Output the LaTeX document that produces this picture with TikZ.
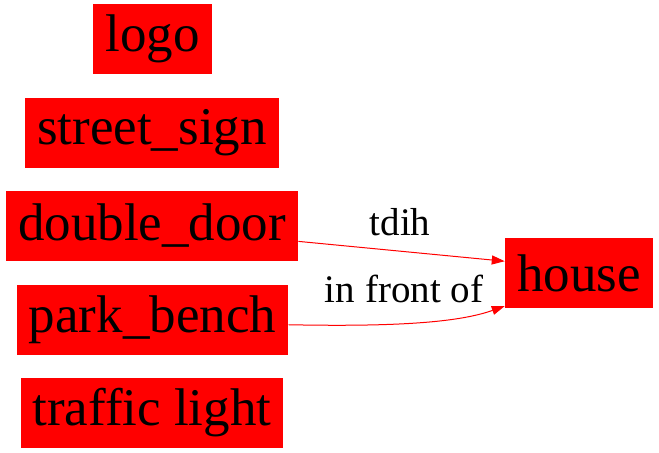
\documentclass[tikz,border=0pt]{standalone}
\usepackage{fontspec}
\setmainfont{Liberation Serif}
\usetikzlibrary{arrows.meta}

\tikzset{
  obj/.style={fill=red, minimum height=35pt, inner xsep=6pt, inner ysep=0pt, font=\fontsize{26.5}{30}\selectfont},
  rel/.style={draw=red, line width=0.5pt, -{Triangle[length=6.5pt,width=4.5pt]}},
  lbl/.style={font=\fontsize{19.5}{22}\selectfont, inner sep=0pt}
}

\begin{document}
\begin{tikzpicture}[x=0.5pt, y=-0.5pt]
	\useasboundingbox (0,0) rectangle (659,453);

	\node[obj] (logo) at (152.5,39) {logo};
	\node[obj] (sign) at (152,133) {street\_sign};
	\node[obj] (door) at (152,226) {double\_door};
	\node[obj] (bench) at (152.5,320) {park\_bench};
	\node[obj] (light) at (152,413) {traffic light};

	\node[obj] (house) at (579,273) {house};

	\node[lbl] (tdih) at (400,222) {tdih};
	\node[lbl] (front) at (404,289) {in front of};

	\draw[rel] (door.-6.2) -- (house.171.5);
	\draw[rel] (bench.-2.5) .. controls (400,327) and (460,322) .. (house.204);

\end{tikzpicture}
\end{document}
